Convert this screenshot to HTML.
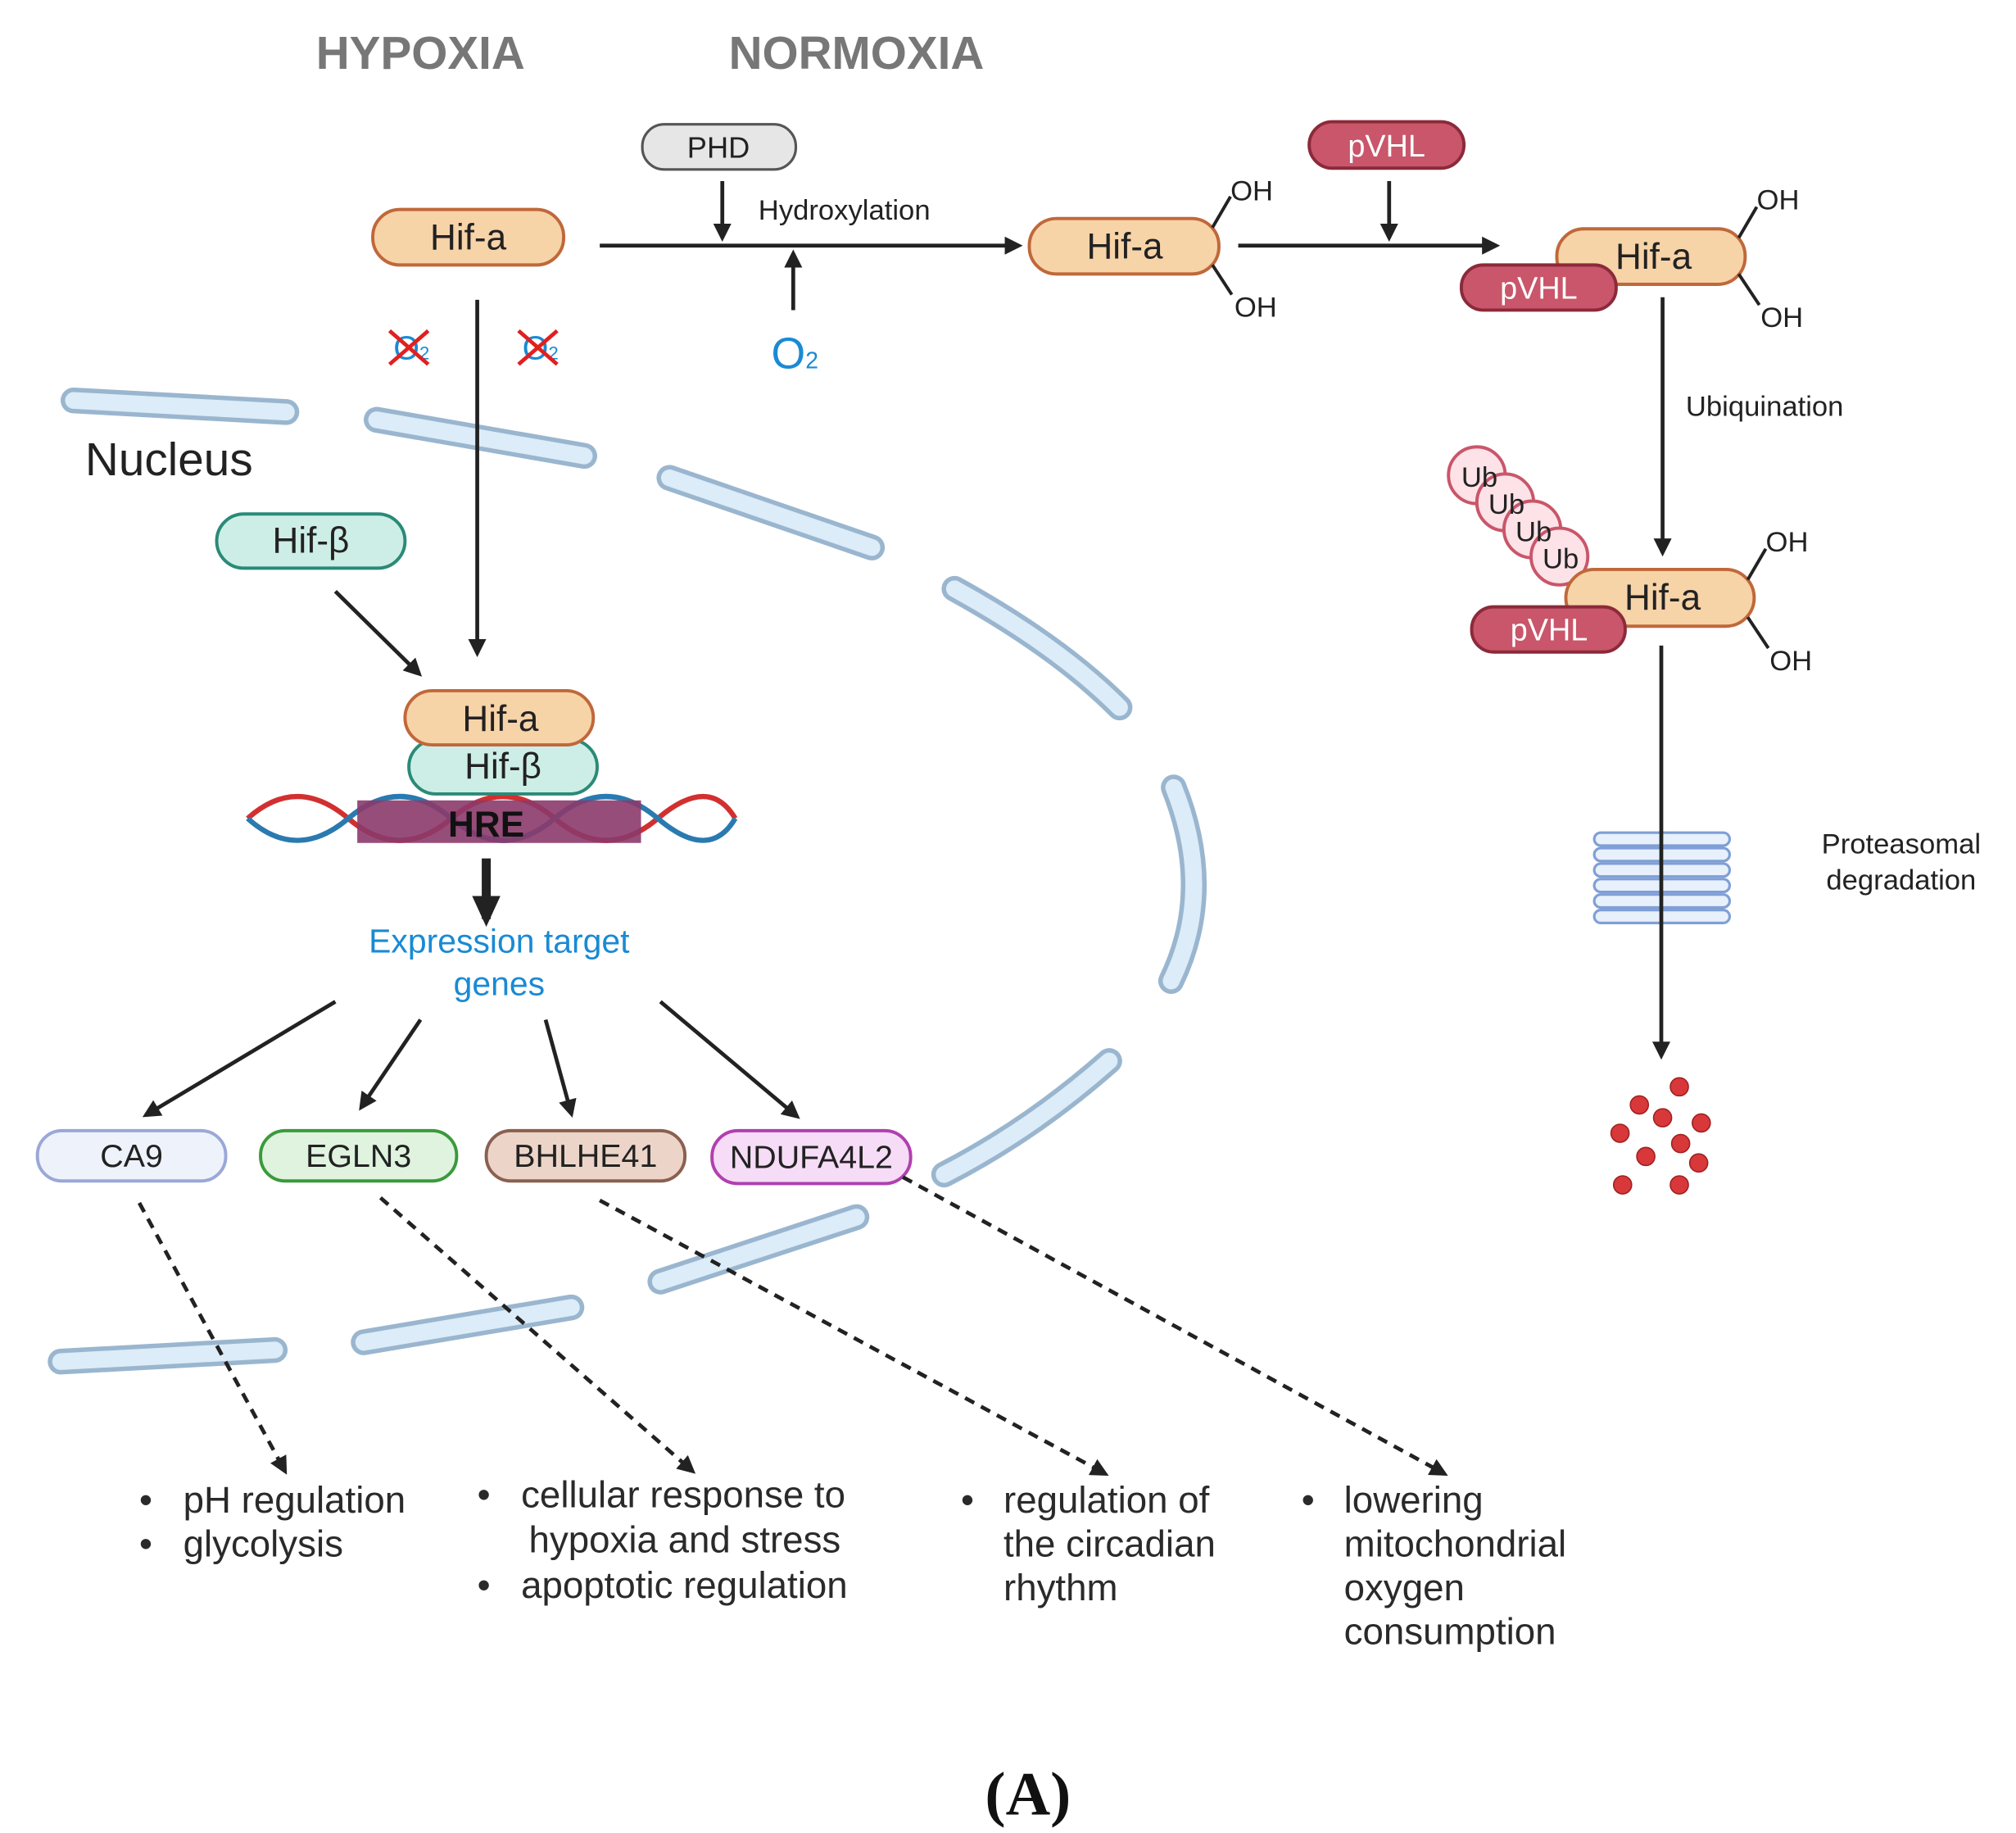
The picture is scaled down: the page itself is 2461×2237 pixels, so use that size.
<!DOCTYPE html>
<html><head><meta charset="utf-8"><style>
html,body{margin:0;padding:0;background:#fff}
svg{display:block}
text{font-family:"Liberation Sans",sans-serif}
</style></head><body>
<svg width="2461" height="2237" viewBox="0 0 1563 1420" xmlns="http://www.w3.org/2000/svg">
<defs>
<marker id="ah" markerWidth="14" markerHeight="14" refX="11" refY="7" orient="auto" markerUnits="userSpaceOnUse" viewBox="0 0 14 14">
<path d="M0,0 L14,7 L0,14 z" fill="#222"/></marker>
<marker id="ahs" markerWidth="24" markerHeight="24" refX="18" refY="12" orient="auto" markerUnits="userSpaceOnUse" viewBox="0 0 24 24">
<path d="M0,1 L24,12 L0,23 z" fill="#222"/></marker>
</defs>
<rect width="1563" height="1420" fill="#fff"/>

<g fill="none" stroke-linecap="round">
<g stroke="#9ab6cf" stroke-width="20">
<path d="M57,310 L222,319"/><path d="M292,325 L453,353"/><path d="M519,370 L676,424"/>
<path d="M740,456 Q820,500 868,548"/><path d="M910,610 Q942,690 908,760"/>
<path d="M860,822 Q800,875 732,910"/><path d="M664,943 L512,993"/>
<path d="M443,1013 L282,1040"/><path d="M213,1046 L47,1055"/>
</g>
<g stroke="#dcecf8" stroke-width="13">
<path d="M57,310 L222,319"/><path d="M292,325 L453,353"/><path d="M519,370 L676,424"/>
<path d="M740,456 Q820,500 868,548"/><path d="M910,610 Q942,690 908,760"/>
<path d="M860,822 Q800,875 732,910"/><path d="M664,943 L512,993"/>
<path d="M443,1013 L282,1040"/><path d="M213,1046 L47,1055"/>
</g></g>

<text x="245" y="53" font-size="36" font-weight="bold" fill="#777">HYPOXIA</text>
<text x="565" y="53" font-size="36" font-weight="bold" fill="#777">NORMOXIA</text>

<rect x="498" y="96" width="119" height="35" rx="17" fill="#e6e6e6" stroke="#555" stroke-width="2"/>
<text x="557" y="122" font-size="23" text-anchor="middle" fill="#222">PHD</text>
<line x1="560" y1="140" x2="560" y2="184" stroke="#222" stroke-width="3" marker-end="url(#ah)"/>
<text x="588" y="170" font-size="22" fill="#222">Hydroxylation</text>
<line x1="465" y1="190" x2="790" y2="190" stroke="#222" stroke-width="3" marker-end="url(#ah)"/>
<line x1="615" y1="240" x2="615" y2="196" stroke="#222" stroke-width="3" marker-end="url(#ah)"/>
<text x="598" y="285" font-size="34" fill="#1a8ad4">O<tspan font-size="18">2</tspan></text>

<g font-size="28" text-anchor="middle" fill="#222">
<rect x="289" y="162" width="148" height="43" rx="21" fill="#f7d3a8" stroke="#c0683a" stroke-width="2.5"/>
<text x="363" y="193">Hif-a</text>
<rect x="798" y="169" width="147" height="43" rx="21" fill="#f7d3a8" stroke="#c0683a" stroke-width="2.5"/>
<text x="872" y="200">Hif-a</text>
</g>
<g stroke="#222" stroke-width="2.5"><line x1="940" y1="176" x2="954" y2="152"/><line x1="940" y1="205" x2="955" y2="228"/></g>
<g font-size="22" fill="#222"><text x="954" y="155">OH</text><text x="957" y="245">OH</text></g>

<rect x="1015" y="94" width="120" height="36" rx="18" fill="#c9566a" stroke="#8b2a3a" stroke-width="2.5"/>
<text x="1075" y="121" font-size="24" fill="#fff" text-anchor="middle">pVHL</text>
<line x1="1077" y1="140" x2="1077" y2="184" stroke="#222" stroke-width="3" marker-end="url(#ah)"/>
<line x1="960" y1="190" x2="1160" y2="190" stroke="#222" stroke-width="3" marker-end="url(#ah)"/>

<rect x="1207" y="177" width="146" height="43" rx="21" fill="#f7d3a8" stroke="#c0683a" stroke-width="2.5"/>
<text x="1282" y="208" font-size="28" fill="#222" text-anchor="middle">Hif-a</text>
<rect x="1133" y="205" width="120" height="35" rx="17" fill="#c9566a" stroke="#8b2a3a" stroke-width="2.5"/>
<text x="1193" y="231" font-size="24" fill="#fff" text-anchor="middle">pVHL</text>
<g stroke="#222" stroke-width="2.5"><line x1="1348" y1="184" x2="1362" y2="160"/><line x1="1348" y1="212" x2="1364" y2="236"/></g>
<g font-size="22" fill="#222"><text x="1362" y="162">OH</text><text x="1365" y="253">OH</text></g>

<line x1="1289" y1="230" x2="1289" y2="428" stroke="#222" stroke-width="3" marker-end="url(#ah)"/>
<text x="1307" y="322" font-size="22" fill="#222">Ubiquination</text>

<g fill="#fde2e8" stroke="#c9566a" stroke-width="2.5">
<circle cx="1145" cy="368" r="22"/><circle cx="1167" cy="389" r="22"/><circle cx="1188" cy="410" r="22"/><circle cx="1209" cy="431" r="22"/>
</g>
<g font-size="22" fill="#222" text-anchor="middle">
<text x="1147" y="377">Ub</text><text x="1168" y="398">Ub</text><text x="1189" y="419">Ub</text><text x="1210" y="440">Ub</text>
</g>
<rect x="1214" y="441" width="146" height="44" rx="22" fill="#f7d3a8" stroke="#c0683a" stroke-width="2.5"/>
<text x="1289" y="472" font-size="28" fill="#222" text-anchor="middle">Hif-a</text>
<rect x="1141" y="470" width="119" height="35" rx="17" fill="#c9566a" stroke="#8b2a3a" stroke-width="2.5"/>
<text x="1201" y="496" font-size="24" fill="#fff" text-anchor="middle">pVHL</text>
<g stroke="#222" stroke-width="2.5"><line x1="1355" y1="449" x2="1369" y2="425"/><line x1="1355" y1="478" x2="1371" y2="502"/></g>
<g font-size="22" fill="#222"><text x="1369" y="427">OH</text><text x="1372" y="519">OH</text></g>

<g fill="#e8f0fb" stroke="#7f9fd6" stroke-width="2">
<rect x="1236" y="645" width="105" height="10" rx="5"/><rect x="1236" y="657" width="105" height="10" rx="5"/>
<rect x="1236" y="669" width="105" height="10" rx="5"/><rect x="1236" y="681" width="105" height="10" rx="5"/>
<rect x="1236" y="693" width="105" height="10" rx="5"/><rect x="1236" y="705" width="105" height="10" rx="5"/>
</g>
<line x1="1288" y1="500" x2="1288" y2="818" stroke="#222" stroke-width="3" marker-end="url(#ah)"/>
<text x="1474" y="661" font-size="22" fill="#222" text-anchor="middle">Proteasomal</text>
<text x="1474" y="689" font-size="22" fill="#222" text-anchor="middle">degradation</text>
<g fill="#d8383a" stroke="#a02020" stroke-width="1">
<circle cx="1302" cy="842" r="7"/><circle cx="1271" cy="856" r="7"/><circle cx="1289" cy="866" r="7"/><circle cx="1319" cy="870" r="7"/>
<circle cx="1256" cy="878" r="7"/><circle cx="1303" cy="886" r="7"/><circle cx="1276" cy="896" r="7"/><circle cx="1317" cy="901" r="7"/>
<circle cx="1258" cy="918" r="7"/><circle cx="1302" cy="918" r="7"/>
</g>

<text x="66" y="368" font-size="36" fill="#222">Nucleus</text>
<g font-size="26" fill="#1a8ad4"><text x="305" y="278">O<tspan font-size="14">2</tspan></text><text x="405" y="278">O<tspan font-size="14">2</tspan></text></g>
<g stroke="#e02020" stroke-width="3"><line x1="302" y1="256" x2="332" y2="282"/><line x1="302" y1="282" x2="332" y2="256"/>
<line x1="402" y1="256" x2="432" y2="282"/><line x1="402" y1="282" x2="432" y2="256"/></g>
<line x1="370" y1="232" x2="370" y2="506" stroke="#222" stroke-width="3" marker-end="url(#ah)"/>
<rect x="168" y="398" width="146" height="42" rx="21" fill="#cdeee6" stroke="#2a8a78" stroke-width="2.5"/>
<text x="241" y="428" font-size="28" fill="#222" text-anchor="middle">Hif-β</text>
<line x1="260" y1="458" x2="325" y2="522" stroke="#222" stroke-width="3" marker-end="url(#ah)"/>

<path d="M192,634 Q230,600 270,634 T350,634 T430,634 T510,634 T570,634" fill="none" stroke="#d23030" stroke-width="4"/>
<path d="M192,634 Q230,668 270,634 T350,634 T430,634 T510,634 T570,634" fill="none" stroke="#2a7ab0" stroke-width="4"/>
<rect x="277" y="620" width="220" height="33" fill="#8b3a6a" opacity="0.9"/>
<text x="377" y="648" font-size="28" font-weight="bold" fill="#111" text-anchor="middle">HRE</text>
<rect x="317" y="573" width="146" height="42" rx="21" fill="#cdeee6" stroke="#2a8a78" stroke-width="2.5"/>
<text x="390" y="603" font-size="28" fill="#222" text-anchor="middle">Hif-β</text>
<rect x="314" y="535" width="146" height="42" rx="21" fill="#f7d3a8" stroke="#c0683a" stroke-width="2.5"/>
<text x="388" y="566" font-size="28" fill="#222" text-anchor="middle">Hif-a</text>

<line x1="377" y1="665" x2="377" y2="712" stroke="#222" stroke-width="7" marker-end="url(#ahs)"/>
<text x="387" y="738" font-size="26" fill="#1a8ad4" text-anchor="middle">Expression target</text>
<text x="387" y="771" font-size="26" fill="#1a8ad4" text-anchor="middle">genes</text>

<g stroke="#222" stroke-width="3">
<line x1="260" y1="776" x2="113" y2="864" marker-end="url(#ah)"/>
<line x1="326" y1="790" x2="280" y2="858" marker-end="url(#ah)"/>
<line x1="423" y1="790" x2="443" y2="863" marker-end="url(#ah)"/>
<line x1="512" y1="776" x2="618" y2="865" marker-end="url(#ah)"/>
</g>

<g font-size="25" fill="#222" text-anchor="middle">
<rect x="29" y="876" width="146" height="39" rx="19" fill="#eef2fb" stroke="#9aa8d8" stroke-width="2.5"/>
<text x="102" y="904">CA9</text>
<rect x="202" y="876" width="152" height="39" rx="19" fill="#dff3df" stroke="#3a9a3a" stroke-width="2.5"/>
<text x="278" y="904">EGLN3</text>
<rect x="377" y="876" width="154" height="39" rx="19" fill="#ecd5c8" stroke="#8a6050" stroke-width="2.5"/>
<text x="454" y="904">BHLHE41</text>
<rect x="552" y="876" width="154" height="41" rx="20" fill="#f6dcf6" stroke="#b040b0" stroke-width="2.5"/>
<text x="629" y="905">NDUFA4L2</text>
</g>

<g stroke="#222" stroke-width="3" stroke-dasharray="8,6">
<line x1="108" y1="932" x2="221" y2="1140" marker-end="url(#ah)"/>
<line x1="295" y1="928" x2="537" y2="1140" marker-end="url(#ah)"/>
<line x1="465" y1="930" x2="857" y2="1142" marker-end="url(#ah)"/>
<line x1="700" y1="912" x2="1120" y2="1142" marker-end="url(#ah)"/>
</g>

<g font-size="29" fill="#2a2a2a">
<text x="108" y="1172">•</text><text x="142" y="1172">pH regulation</text>
<text x="108" y="1206">•</text><text x="142" y="1206">glycolysis</text>
<text x="370" y="1168">•</text><text x="404" y="1168">cellular response to</text>
<text x="410" y="1203">hypoxia and stress</text>
<text x="370" y="1238">•</text><text x="404" y="1238">apoptotic regulation</text>
<text x="745" y="1172">•</text><text x="778" y="1172">regulation of</text>
<text x="778" y="1206">the circadian</text>
<text x="778" y="1240">rhythm</text>
<text x="1009" y="1172">•</text><text x="1042" y="1172">lowering</text>
<text x="1042" y="1206">mitochondrial</text>
<text x="1042" y="1240">oxygen</text>
<text x="1042" y="1274">consumption</text>
</g>

<text x="797" y="1406" font-size="48" font-weight="bold" text-anchor="middle" fill="#111" style="font-family:'Liberation Serif',serif">(A)</text>
</svg>
</body></html>
